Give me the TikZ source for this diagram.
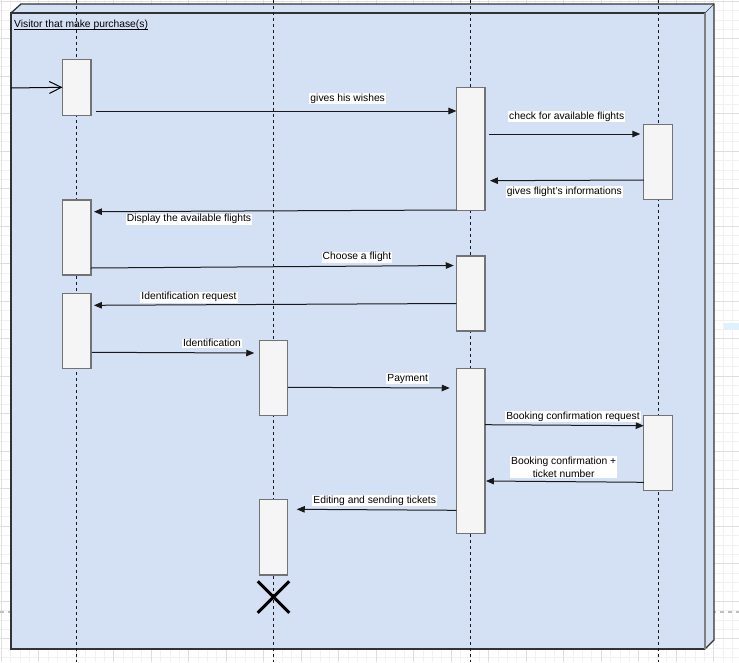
\documentclass[tikz,border=0pt]{standalone}
\usepackage{fontspec}
\setmainfont{Liberation Sans}
\usetikzlibrary{positioning,arrows.meta,shapes.misc}
\definecolor{frameblue}{HTML}{D4E1F5}
\definecolor{actgray}{HTML}{F5F5F5}
\definecolor{gridmajor}{HTML}{DEDEDE}
\definecolor{gridminor}{HTML}{F1F1F1}
\definecolor{selcyan}{HTML}{DFF2FC}

\begin{document}
\begin{tikzpicture}[x=1pt, y=-1pt, every node/.style={font=\fontsize{10.3}{12.7}\selectfont},
  act/.style={draw=black!55, fill=actgray, line width=1.2pt, minimum width=28.5, anchor=north, outer sep=0pt, inner sep=0pt},
  msg/.style={draw=black!90, line width=1pt, -{Triangle[length=8pt,width=6.5pt]}},
  lbl/.style={fill=white, inner xsep=1pt, inner ysep=1pt, align=center, yshift=-1.3pt},
  life/.style={draw=black!90, line width=1pt, dash pattern=on 3pt off 3pt}]
\useasboundingbox (0,0) rectangle (739,662);
\fill[white] (0,0) rectangle (739,662);
% canvas grid
\foreach \g in {1,10.375,...,740} {
  \draw[gridminor] (\g,0) -- (\g,662);
  \draw[gridminor] (0,\g) -- (739,\g);
}
\foreach \g in {1,38.5,...,740} {
  \draw[gridmajor] (\g,0) -- (\g,662);
  \draw[gridmajor] (0,\g) -- (739,\g);
}
\draw[black!25, line width=1.5pt, dash pattern=on 4pt off 4pt] (0,612) -- (739,612);
\fill[selcyan] (724,323) rectangle (739,330);
% frame
\fill[frameblue] (11,13) -- (21,4) -- (714,4) -- (714,640) -- (705,649) -- (11,649) -- cycle;
\draw[black!80, line width=1.3pt] (705,649) -- (11,649) -- (11,13) -- (705,13);
\draw[black!80, line width=1.3pt] (11,13) -- (21,4) -- (714,4) -- (714,640) -- (705,649);
\draw[black!80] (705,13) -- (714,4);
\draw[black!50, line width=1.3pt] (705,13) -- (705,649);
\node[anchor=west, inner sep=0pt] (title) at (14,25.2) {Visitor that make purchase(s)};
\draw[line width=0.8pt] ([yshift=-1.5pt]title.base west) -- ([yshift=-1.5pt]title.base east);
% lifelines
\foreach \x in {76.7,273.5,470.7,658}
  \draw[life] (\x,0) -- (\x,662);
% activations
\node[act, minimum height=56] (a1) at (76.7,59.3) {};
\node[act, minimum height=75] (a2) at (76.7,200) {};
\node[act, minimum height=75] (a3) at (76.7,293.5) {};
\node[act, minimum height=75] (b1) at (273.5,340.3) {};
\node[act, minimum height=75.5] (b2) at (273.5,499.5) {};
\node[act, minimum height=123] (c1) at (470.7,87.5) {};
\node[act, minimum height=75] (c2) at (470.7,256) {};
\node[act, minimum height=165] (c3) at (470.7,368.3) {};
\node[act, minimum height=75] (d1) at (658,124.7) {};
\node[act, minimum height=75] (d2) at (658,415.3) {};
\node[cross out, draw, line width=3pt, minimum size=28.5, inner sep=0pt] (stop) at (273.5,597) {};
% messages
\coordinate (entry) at (11,88);
\draw[line width=1pt, -{Straight Barb[length=12pt,width=12pt]}] (entry) -- (a1.west);
\draw[msg] ([xshift=5]a1.east |- 0,111) -- (c1.west |- 0,111);
\draw[msg] ([xshift=4.5]c1.east |- 0,134) -- ([xshift=-3.5]d1.west |- 0,134);
\draw[msg] (d1.west |- 0,180) -- ([xshift=5]c1.east |- 0,180.7);
\draw[msg] (c1.west |- 0,210) -- ([xshift=3]a2.east |- 0,211.7);
\draw[msg] (a2.east |- 0,268) -- ([xshift=-2.7]c2.west |- 0,265.5);
\draw[msg] (c2.west |- 0,303.5) -- ([xshift=3]a3.east |- 0,305.3);
\draw[msg] ([xshift=1]a3.east |- 0,352.3) -- ([xshift=-5]b1.west |- 0,353);
\draw[msg] (b1.east |- 0,387.3) -- ([xshift=-6.7]c3.west |- 0,388);
\draw[msg] (c3.east |- 0,424.7) -- (d2.west |- 0,425.7);
\draw[msg] (d2.west |- 0,482.3) -- ([xshift=1]c3.east |- 0,481);
\draw[msg] (c3.west |- 0,510.3) -- ([xshift=9]b2.east |- 0,509.3);
% message labels
\node[lbl] (wishes) at (347.7,97.3) {gives his wishes};
\node[lbl] (check) at (566.7,115.3) {check for available flights};
\node[lbl] (infos) at (564.3,190.7) {gives flight's informations};
\node[lbl] (display) at (189,218) {Display the available flights};
\node[lbl] (choose) at (357,256) {Choose a flight};
\node[lbl] (idreq) at (189,296) {Identification request};
\node[lbl] (ident) at (212,342) {Identification};
\node[lbl] (pay) at (407.7,377.3) {Payment};
\node[lbl] (bookreq) at (573,415.3) {Booking confirmation request};
\node[lbl] (booknum) at (563.7,465.7) {Booking confirmation +\\ticket number};
\node[lbl] (edit) at (374.7,499.3) {Editing and sending tickets};
\end{tikzpicture}
\end{document}
